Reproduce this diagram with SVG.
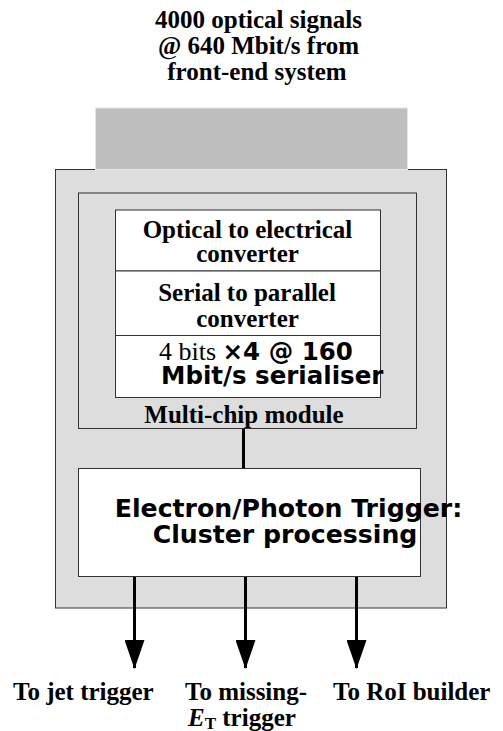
<svg xmlns="http://www.w3.org/2000/svg" width="503" height="731" viewBox="0 0 503 731">
<defs>
<style>
.t{font-family:"Liberation Serif","Times New Roman",serif;font-weight:bold;font-size:25px;fill:#000}
.r{font-family:"Liberation Serif","Times New Roman",serif;font-weight:normal;font-size:26px;fill:#000}
.s{font-family:"DejaVu Sans",sans-serif;font-weight:bold;font-size:24.5px;fill:#000}
.box{stroke:#333;stroke-width:1}
.wire{stroke:#000;stroke-width:3;fill:none}
</style>
<marker id="ah" markerWidth="29" markerHeight="20" refX="28" refY="10" orient="auto" markerUnits="userSpaceOnUse" viewBox="0 0 29 20">
<path d="M0,0 L29,10 L0,20 Z" fill="#000"/>
</marker>
</defs>
<rect width="503" height="731" fill="#fff"/>
<g id="title">
<text class="t" x="258.5" y="28" text-anchor="middle">4000 optical signals</text>
<text class="t" x="258.5" y="54" text-anchor="middle">@ 640 Mbit/s from</text>
<text class="t" x="257" y="80" text-anchor="middle">front-end system</text>
</g>
<g id="outer">
<rect class="box" x="55.5" y="169.5" width="391" height="438.5" fill="#dddddd"/>
</g>
<g id="input">
<rect x="95.5" y="108" width="312" height="61.5" fill="#bebebe" stroke="#e6e6e6" stroke-width="1"/>
</g>
<g id="mcm">
<rect class="box" x="78.5" y="193" width="338" height="235.5" fill="#dddddd"/>
<text class="t" x="244" y="423" text-anchor="middle">Multi-chip module</text>
</g>
<g id="opt">
<rect class="box" x="115.5" y="210" width="265" height="61" fill="#fff"/>
<text class="t" x="247.5" y="238" text-anchor="middle">Optical to electrical</text>
<text class="t" x="247.5" y="261.5" text-anchor="middle">converter</text>
</g>
<g id="ser">
<rect class="box" x="115.5" y="271" width="265" height="64.5" fill="#fff"/>
<text class="t" x="247" y="300.5" text-anchor="middle">Serial to parallel</text>
<text class="t" x="247.5" y="326.5" text-anchor="middle">converter</text>
</g>
<g id="serialiser">
<rect class="box" x="115.5" y="335.5" width="265" height="62" fill="#fff"/>
<text x="159" y="360"><tspan class="r">4 bits </tspan><tspan class="s">×4 @ 160</tspan></text>
<text class="s" x="161" y="384">Mbit/s serialiser</text>
</g>
<g id="trigger">
<rect class="box" x="78.5" y="468.5" width="342" height="108" fill="#fff"/>
<text class="s" x="288.5" y="517" text-anchor="middle" style="font-size:25.2px">Electron/Photon Trigger:</text>
<text class="s" x="285" y="543" text-anchor="middle" style="font-size:25.2px">Cluster processing</text>
</g>
<g id="connectors">
<line class="wire" x1="243.5" y1="428.5" x2="243.5" y2="468.5"/>
<line class="wire" x1="134.5" y1="577" x2="134.5" y2="668" marker-end="url(#ah)"/>
<line class="wire" x1="245.5" y1="577" x2="245.5" y2="668" marker-end="url(#ah)"/>
<line class="wire" x1="356.5" y1="577" x2="356.5" y2="668" marker-end="url(#ah)"/>
</g>
<g id="labels">
<text class="t" x="13" y="700">To jet trigger</text>
<text class="t" x="185" y="700">To missing-</text>
<text class="t" x="188" y="726"><tspan font-style="italic">E</tspan><tspan font-size="17" dy="3">T</tspan><tspan dy="-3"> trigger</tspan></text>
<text class="t" x="333" y="700">To RoI builder</text>
</g>
</svg>
